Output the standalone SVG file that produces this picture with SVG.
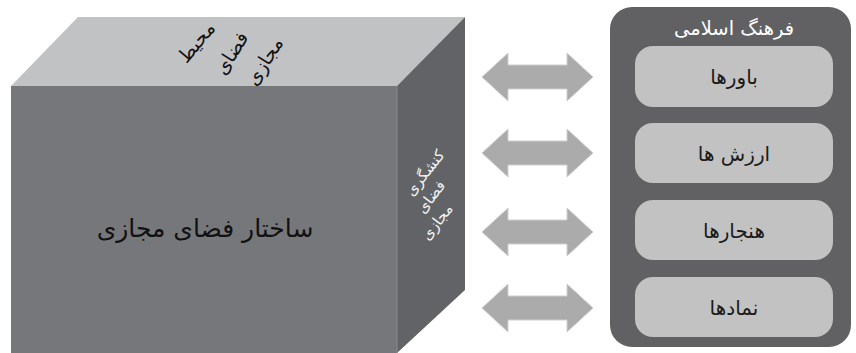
<svg xmlns="http://www.w3.org/2000/svg" width="856" height="353" viewBox="0 0 856 353">
<defs>
<style>
.t{font-family:"DejaVu Sans",sans-serif;text-anchor:middle;dominant-baseline:central}
.box{fill:#c2c2c3}
.bt{font-size:20px;fill:#1a1a1a}
.arr{fill:#ababab;stroke:#cfcfcf;stroke-width:1}
</style>
<polygon id="dbl" class="arr" points="-55,0 -29,-24 -29,-12 30,-12 30,-24 56,0 30,24 30,12 -29,12 -29,24"/>
</defs>
<rect width="856" height="353" fill="#ffffff"/>
<g id="cube">
<polygon points="11,86 78,17 465,17 397,86" fill="#c1c2c4"/>
<polygon points="11,86 397,86 397,353 11,353" fill="#76777b"/>
<polygon points="397,86 465,17 465,290 397,353" fill="#626366"/>
<line x1="397" y1="86" x2="397" y2="353" stroke="#8a8b8e" stroke-width="1"/>
<text class="t" x="205" y="228" font-size="25" fill="#111">ساختار فضای مجازی</text>
<g class="t" font-size="19" fill="#111">
<text transform="translate(196,42) rotate(-50)">محیط</text>
<text transform="translate(231,53) rotate(-58)">فضای</text>
<text transform="translate(264,61) rotate(-58)">مجازی</text>
</g>
<g class="t" font-size="15" fill="#f2f2f2">
<text transform="translate(425,173) rotate(-52)">کنشگری</text>
<text transform="translate(431,197) rotate(-52)">فضای</text>
<text transform="translate(437,222) rotate(-52)">مجازی</text>
</g>
</g>
<g id="connectors">
<use href="#dbl" x="537" y="77"/>
<use href="#dbl" x="537" y="153"/>
<use href="#dbl" x="537" y="232"/>
<use href="#dbl" x="537" y="308"/>
</g>
<g id="islamic-culture">
<rect x="610" y="7" width="241" height="340" rx="22" fill="#616163"/>
<text class="t" x="734" y="28" font-size="19.5" fill="#ffffff">فرهنگ اسلامی</text>
</g>
<g id="beliefs">
<rect class="box" x="635" y="46" width="198" height="61" rx="18"/>
<text class="t bt" x="734" y="77">باورها</text>
</g>
<g id="values">
<rect class="box" x="635" y="123" width="198" height="60" rx="18"/>
<text class="t bt" x="734" y="154">ارزش ها</text>
</g>
<g id="norms">
<rect class="box" x="635" y="200" width="198" height="60" rx="18"/>
<text class="t bt" x="734" y="231">هنجارها</text>
</g>
<g id="symbols">
<rect class="box" x="635" y="277" width="198" height="60" rx="18"/>
<text class="t bt" x="734" y="308">نمادها</text>
</g>
</svg>
